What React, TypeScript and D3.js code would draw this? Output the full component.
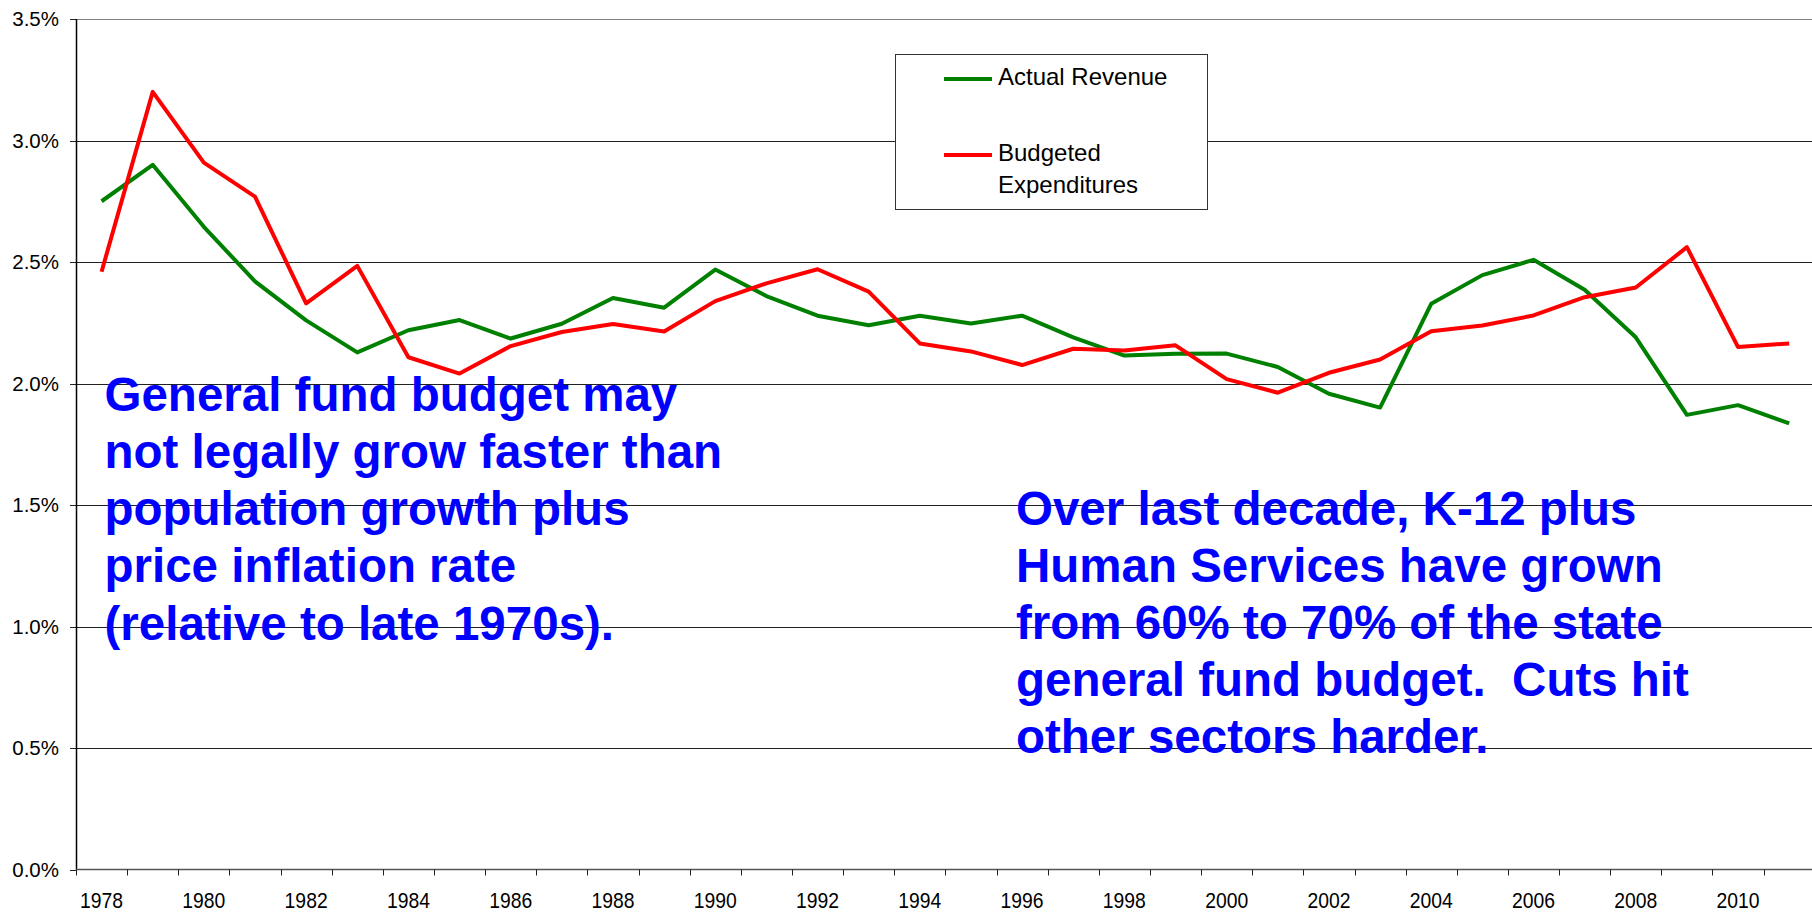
import React from "react";
import * as d3 from "d3";

const years: number[] = [
  1978, 1979, 1980, 1981, 1982, 1983, 1984, 1985, 1986, 1987, 1988, 1989,
  1990, 1991, 1992, 1993, 1994, 1995, 1996, 1997, 1998, 1999, 2000, 2001,
  2002, 2003, 2004, 2005, 2006, 2007, 2008, 2009, 2010, 2011,
];

const actualRevenue: number[] = [
  2.75, 2.9, 2.645, 2.42, 2.26, 2.128, 2.219, 2.261, 2.185, 2.246, 2.352, 2.312,
  2.469, 2.36, 2.279, 2.24, 2.279, 2.247, 2.279, 2.19, 2.115, 2.122, 2.123, 2.068,
  1.958, 1.901, 2.328, 2.446, 2.509, 2.386, 2.19, 1.871, 1.911, 1.836,
];

const budgetedExpenditures: number[] = [
  2.46, 3.2, 2.909, 2.769, 2.33, 2.484, 2.108, 2.041, 2.154, 2.212, 2.245, 2.214,
  2.339, 2.412, 2.47, 2.378, 2.165, 2.132, 2.076, 2.143, 2.136, 2.157, 2.018, 1.962,
  2.044, 2.099, 2.215, 2.239, 2.28, 2.355, 2.395, 2.561, 2.15, 2.165,
];

const yTicks: number[] = [0, 0.5, 1.0, 1.5, 2.0, 2.5, 3.0, 3.5];
const xLabelYears: number[] = years.filter((y) => (y - 1978) % 2 === 0);

const leftNote: string[] = [
  "General fund budget may",
  "not legally grow faster than",
  "population growth plus",
  "price inflation rate",
  "(relative to late 1970s).",
];
const rightNote: string[] = [
  "Over last decade, K-12 plus",
  "Human Services have grown",
  "from 60% to 70% of the state",
  "general fund budget.  Cuts hit",
  "other sectors harder.",
];

const seriesNames = ["Actual Revenue", "Budgeted Expenditures"];

const W = 1812;
const H = 912;
const FONT = "'Liberation Sans', Arial, Helvetica, sans-serif";

export default function App() {
  const left = 76;
  const band = 51.14;
  const right = left + band * years.length;
  const top = 19;
  const bottom = 869.5;

  const x = d3
    .scaleBand<number>()
    .domain(years)
    .range([left, right])
    .padding(0);
  const y = d3.scaleLinear().domain([0, 3.5]).range([bottom, top]);
  const cx = (yr: number) => (x(yr) as number) + x.bandwidth() / 2;

  const line = d3
    .line<number>()
    .x((_, i) => cx(years[i]))
    .y((d) => y(d));

  const fmt = d3.format(".1f");

  return (
    <svg
      width={W}
      height={H}
      style={{ position: "absolute", left: 0, top: 0, background: "#fff" }}
      fontFamily={FONT}
    >
      <rect x={0} y={0} width={W} height={H} fill="#fff" />
      {/* gridlines */}
      {yTicks.map((t) => (
        <g key={t}>
          {t > 0 && (
            <line
              x1={left}
              x2={W}
              y1={Math.round(y(t)) + 0.5}
              y2={Math.round(y(t)) + 0.5}
              stroke={t === 3.5 ? "#808080" : "#222"}
              strokeWidth={1}
            />
          )}
          <line
            x1={left - 6}
            x2={left}
            y1={Math.round(y(t)) + 0.5}
            y2={Math.round(y(t)) + 0.5}
            stroke="#222"
          />
          <text
            x={59}
            y={y(t)}
            dy="0.35em"
            textAnchor="end"
            fontSize={20.5}
            fill="#000"
          >
            {fmt(t) + "%"}
          </text>
        </g>
      ))}
      {/* axes */}
      <line x1={left + 0.5} x2={left + 0.5} y1={top} y2={bottom} stroke="#000" strokeWidth={1.5} />
      <line x1={left} x2={W} y1={bottom} y2={bottom} stroke="#555" strokeWidth={1.5} />
      {d3.range(years.length + 1).map((i) => {
        const xx = Math.round(left + i * x.bandwidth()) + 0.5;
        return (
          <line key={i} x1={xx} x2={xx} y1={bottom} y2={bottom + 6} stroke="#222" />
        );
      })}
      {xLabelYears.map((yr) => (
        <text
          key={yr}
          transform={`translate(${cx(yr)},${908}) scale(0.86,1)`}
          textAnchor="middle"
          fontSize={22.5}
          fill="#000"
        >
          {yr}
        </text>
      ))}

      {/* annotations */}
      {leftNote.map((s, i) => (
        <text
          key={"l" + i}
          x={104.5}
          y={410.5 + i * 57.3}
          fontSize={47.5}
          fontWeight="bold"
          fill="#0000ff"
        >
          {s}
        </text>
      ))}
      {rightNote.map((s, i) => (
        <text
          key={"r" + i}
          x={1016}
          y={524.5 + i * 57}
          fontSize={47.5}
          fontWeight="bold"
          fill="#0000ff"
          style={{ whiteSpace: "pre" }}
        >
          {s}
        </text>
      ))}

      {/* series */}
      <path
        d={line(actualRevenue) || ""}
        fill="none"
        stroke="#008000"
        strokeWidth={4}
        strokeLinejoin="round"
      />
      <path
        d={line(budgetedExpenditures) || ""}
        fill="none"
        stroke="#ff0000"
        strokeWidth={4}
        strokeLinejoin="round"
      />

      {/* legend */}
      <rect x={895.5} y={54.5} width={312} height={155} fill="#fff" stroke="#333" strokeWidth={1} />
      <line x1={944} x2={992} y1={79} y2={79} stroke="#008000" strokeWidth={4} />
      <text x={998} y={85} fontSize={24} fill="#000">
        {seriesNames[0]}
      </text>
      <line x1={944} x2={992} y1={155} y2={155} stroke="#ff0000" strokeWidth={4} />
      <text x={998} y={161} fontSize={24} fill="#000">
        Budgeted
      </text>
      <text x={998} y={192.5} fontSize={24} fill="#000">
        Expenditures
      </text>
    </svg>
  );
}
